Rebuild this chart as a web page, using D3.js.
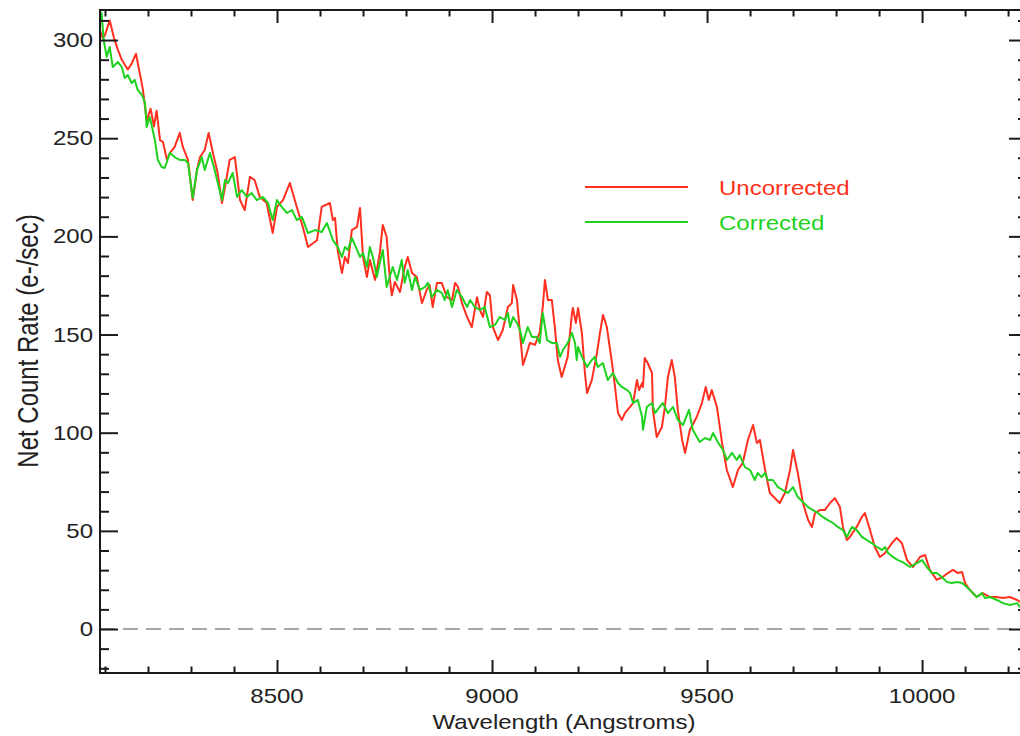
<!DOCTYPE html>
<html><head><meta charset="utf-8">
<script src="https://cdn.jsdelivr.net/npm/d3@7"></script>
<style>
body{margin:0;background:#fff;}
svg{display:block;}
text{font-family:"Liberation Sans",Arial,Helvetica,sans-serif;}
</style>
</head><body>
<svg id="chart" width="1020" height="736"></svg>
<script>
// ---------------- data ----------------
const seriesNames = ["Uncorrected", "Corrected"];
const seriesColors = ["#ff3020", "#1fd21f"];

const xMajorTicks = [8500, 9000, 9500, 10000];
const xMinorTicks = [8100, 8200, 8300, 8400, 8600, 8700, 8800, 8900, 9100, 9200, 9300, 9400,
  9600, 9700, 9800, 9900, 10100, 10200];
const yMajorTicks = [0, 50, 100, 150, 200, 250, 300];
const yMinorTicks = [-20, -10, 10, 20, 30, 40, 60, 70, 80, 90, 110, 120, 130, 140, 160, 170, 180, 190,
  210, 220, 230, 240, 260, 270, 280, 290, 310];

const uncorrectedWave = [8088,8095,8100,8111,8121,8130,8139,8153,8162,8172,8181,8188,8197,8206,8214,8220,8228,8235,8244,8251,
  8262,8274,8281,8293,8304,8314,8321,8332,8341,8351,8362,8372,8379,8390,8402,8414,8425,8437,8448,8460,
  8476,8490,8500,8514,8530,8546,8560,8572,8593,8604,8623,8630,8635,8641,8651,8658,8665,8674,8686,8693,
  8700,8709,8716,8728,8739,8746,8755,8762,8767,8774,8786,8797,8804,8814,8825,8837,8848,8855,8862,8872,
  8883,8895,8907,8914,8921,8930,8942,8953,8965,8972,8979,8988,8995,9002,9014,9025,9037,9046,9049,9058,
  9065,9072,9081,9088,9100,9111,9118,9123,9130,9139,9146,9153,9162,9169,9176,9186,9188,9195,9200,9209,
  9216,9221,9232,9244,9251,9258,9267,9279,9286,9293,9302,9309,9321,9328,9337,9342,9349,9351,9355,9362,
  9372,9374,9383,9395,9402,9409,9418,9425,9432,9442,9449,9460,9476,9488,9497,9504,9511,9523,9535,9546,
  9560,9572,9583,9595,9607,9616,9623,9635,9646,9662,9669,9681,9693,9700,9711,9723,9735,9744,9751,9762,
  9774,9786,9797,9809,9816,9825,9832,9848,9860,9867,9879,9890,9902,9914,9930,9941,9953,9965,9979,9995,
  10007,10018,10034,10048,10060,10072,10083,10093,10100,10111,10127,10141,10158,10174,10188,10204,10221,10228];
const uncorrectedRate = [305,301,302.6,310,301,295,290,285,288,293,283,275,259,265,256,264,249,248,239,242.5,
  245.6,252.7,245.6,239,218.5,234,240.4,244,252.7,242.5,232.3,217,225,239,240.4,218.5,213.4,230.3,228.7,220,
  217,201.7,215,218.5,227.2,215,204.8,194.6,198,215,217,208.3,209.4,193,181.3,189.5,186.4,203.2,204.8,214.5,
  189.5,179.3,188,177.8,191.5,205.8,199.7,179.3,170,176.8,171.7,184.4,189.5,181.3,179.3,166,172.7,175.2,164,176.3,
  176.3,169,167.6,176.3,174.2,166,159,153.8,169,162.5,159,171.7,170,153.8,147.2,152.3,164,166,175.2,167.6,
  150.8,134.5,140.6,145.7,144.7,151.3,164,177.8,167.6,167.6,153.8,137,128.4,133.5,138.6,161,163.5,155.9,163.5,150.8,
  130.4,120.2,126.8,140.6,150.8,160,153.8,135.5,123.3,110,106.5,110,113.1,115.1,126.8,121.7,125.3,123.3,138,135.5,
  130.4,111.6,97.8,102.9,113.1,128.4,137,128.4,111.6,96.3,89.7,101.4,108,115.1,123.3,116.7,121.7,113.1,94.7,81,
  72.3,81,84.6,96.3,103.9,94.7,96.3,81,69.3,65.7,64.2,69.3,81,91.2,79.5,64.2,55.5,52,59.1,60.6,
  60.6,64.2,66.7,62.1,52,45.3,46.9,52,57.1,59.1,50.4,41.8,36.7,38.7,43.8,46.4,43.8,35.1,31.6,36.7,
  37.7,30.1,25,26.5,28.5,30.1,28.5,29,23.4,19.9,16.3,18.3,16.3,16.3,15.8,16.3,14.8,13.8];

const correctedWave = [8088,8092,8097,8104,8111,8118,8130,8139,8146,8153,8162,8169,8176,8186,8193,8197,8204,8211,8216,8223,
  8232,8239,8251,8262,8274,8286,8293,8304,8314,8325,8332,8344,8355,8372,8379,8386,8397,8407,8418,8430,
  8441,8453,8467,8479,8490,8500,8511,8523,8535,8546,8558,8572,8588,8604,8616,8630,8641,8651,8658,8665,
  8674,8686,8693,8700,8709,8716,8723,8732,8739,8746,8755,8762,8769,8779,8790,8797,8804,8814,8821,8832,
  8844,8851,8860,8872,8883,8890,8897,8907,8918,8930,8942,8949,8960,8972,8983,8995,9007,9018,9030,9037,
  9042,9049,9058,9065,9072,9083,9093,9104,9111,9118,9128,9139,9151,9158,9165,9176,9186,9193,9197,9200,
  9209,9221,9232,9239,9246,9258,9269,9281,9293,9302,9314,9321,9328,9339,9349,9351,9360,9372,9379,9390,
  9397,9409,9421,9432,9444,9458,9467,9483,9495,9507,9514,9525,9537,9546,9558,9569,9576,9588,9600,9611,
  9618,9627,9635,9641,9653,9665,9676,9688,9700,9711,9723,9735,9746,9758,9769,9781,9793,9804,9816,9825,
  9837,9848,9860,9872,9883,9895,9907,9914,9921,9932,9944,9955,9972,9988,10000,10011,10023,10034,10046,10058,
  10069,10081,10093,10104,10116,10127,10139,10146,10158,10174,10188,10204,10221,10228];
const correctedRate = [311.8,313.8,300,291.4,296.5,286.3,288.8,286.3,280.7,282.2,278.1,279.7,274.6,272,268,255.7,260.8,254.2,249.1,238.9,
  235.3,234.8,242.5,240.4,238.9,238.9,237.4,219.6,233.8,240.4,233.8,242.5,233.8,218.5,228.7,227.2,232.3,220.1,223.6,220.1,
  222.1,218.5,220.1,217,208.3,218.5,215,211.9,213.4,208.3,209.9,201.7,203.2,202.2,206.8,198.1,194.6,189.5,194.6,193.1,
  199.2,193.1,189.5,191.5,184.4,194.6,189.5,179.3,186.4,193.1,174.2,179.3,184.4,177.8,188,176.3,182.9,172.7,179.3,172.7,
  174.2,176.3,169.1,172.7,171.2,167.6,172.7,164,172.7,169.1,164,167.6,164,162.5,164,153.8,154.9,158.9,157.4,161,
  153.8,158.9,155.9,152.3,145.7,153.8,148.7,148.7,145.7,161,147.2,145.7,145.7,138.6,142.1,145.7,150.8,145.7,137,143.7,
  138.6,133.5,137,138.6,133.5,135.5,126.8,130.4,125.3,123.3,121.7,120.2,115.1,116.7,108,101.4,113.1,115.1,110,113.1,
  115.1,110,113.1,106.5,103.9,111.6,101.4,95.3,97.3,96.3,99.8,95.3,91.2,86.1,89.7,86.1,88.6,82.5,81,75.9,
  79.5,77.4,79.5,75.9,75.9,72.3,70.8,69.3,72.3,67.2,64.7,62.1,60.6,59.1,57.1,55.5,54,52,50.4,46.9,
  52,50.4,46.9,45.3,43.8,41.8,40.2,41.8,38.7,36.7,35.1,34.1,31.6,33.6,35.1,31.6,28.5,28.5,26.5,23.9,
  23.4,23.9,23.4,21.4,18.8,16.3,18.3,15.8,16.3,14.8,13.2,12.2,13.2,11.2];

const xTitle = "Wavelength (Angstroms)";
const yTitle = "Net Count Rate (e-/sec)";

// ---------------- layout ----------------
const svg = d3.select("#chart");
const L = 100, R = 1027, T = 10, B = 673;
const xDomain = [8088.4, 10244];
const x = d3.scaleLinear().domain(xDomain).range([L, R]);
const y = d3.scaleLinear().domain([-22.4, 315.3]).range([B, T]);
const axisColor = "#1a1a1a";
const fs = 20, sx = 1.2;

// clip
svg.append("defs").append("clipPath").attr("id", "clip")
  .append("rect").attr("x", L).attr("y", T).attr("width", R - L).attr("height", B - T);

// zero dashed line
svg.append("line")
  .attr("x1", x(xDomain[0])).attr("x2", x(xDomain[1])).attr("y1", y(0)).attr("y2", y(0))
  .attr("stroke", "#8a8a8a").attr("stroke-width", 1.6).attr("stroke-dasharray", "15,8");

// series lines
const series = [
  {name: seriesNames[0], wave: uncorrectedWave, rate: uncorrectedRate, color: seriesColors[0]},
  {name: seriesNames[1], wave: correctedWave, rate: correctedRate, color: seriesColors[1]}
];
const line = d3.line().x(d => x(d[0])).y(d => y(d[1]));
const plot = svg.append("g").attr("clip-path", "url(#clip)");
series.forEach(s => {
  plot.append("path")
    .datum(s.wave.map((w, i) => [w, s.rate[i]]))
    .attr("fill", "none").attr("stroke", s.color).attr("stroke-width", 2)
    .attr("stroke-linejoin", "round").attr("d", line);
});

// axes with inward ticks
const xMajLen = 13, xMinLen = 6.5, yMajLen = 18, yMinLen = 9;
function styleAxis(g) {
  g.selectAll("path.domain").remove();
  g.selectAll(".tick line").attr("stroke", axisColor).attr("stroke-width", 2);
  g.selectAll(".tick text").remove();
}
svg.append("g").attr("transform", `translate(0,${B})`)
  .call(d3.axisBottom(x).tickValues(xMajorTicks).tickSize(-xMajLen)).call(styleAxis);
svg.append("g").attr("transform", `translate(0,${B})`)
  .call(d3.axisBottom(x).tickValues(xMinorTicks).tickSize(-xMinLen)).call(styleAxis);
svg.append("g").attr("transform", `translate(0,${T})`)
  .call(d3.axisTop(x).tickValues(xMajorTicks).tickSize(-xMajLen)).call(styleAxis);
svg.append("g").attr("transform", `translate(0,${T})`)
  .call(d3.axisTop(x).tickValues(xMinorTicks).tickSize(-xMinLen)).call(styleAxis);
svg.append("g").attr("transform", `translate(${L},0)`)
  .call(d3.axisLeft(y).tickValues(yMajorTicks).tickSize(-yMajLen)).call(styleAxis);
svg.append("g").attr("transform", `translate(${L},0)`)
  .call(d3.axisLeft(y).tickValues(yMinorTicks).tickSize(-yMinLen)).call(styleAxis);
svg.append("g").attr("transform", `translate(${R},0)`)
  .call(d3.axisRight(y).tickValues(yMajorTicks).tickSize(-yMajLen)).call(styleAxis);
svg.append("g").attr("transform", `translate(${R},0)`)
  .call(d3.axisRight(y).tickValues(yMinorTicks).tickSize(-yMinLen)).call(styleAxis);

// frame
svg.append("rect").attr("x", L).attr("y", T).attr("width", R - L).attr("height", B - T)
  .attr("fill", "none").attr("stroke", axisColor).attr("stroke-width", 2);

// tick labels
svg.append("g").selectAll("text").data(xMajorTicks).join("text")
  .attr("transform", d => `translate(${x(d)},703) scale(${sx},1)`)
  .attr("text-anchor", "middle").attr("font-size", fs).attr("fill", "#222").text(d => d);
svg.append("g").selectAll("text").data(yMajorTicks).join("text")
  .attr("transform", d => `translate(93,${y(d) + 7}) scale(${sx},1)`)
  .attr("text-anchor", "end").attr("font-size", fs).attr("fill", "#222").text(d => d);

// axis titles
svg.append("text").attr("transform", `translate(564,729) scale(${sx},1)`)
  .attr("text-anchor", "middle").attr("font-size", fs).attr("fill", "#222").text(xTitle);
svg.append("text").attr("transform", `translate(38,341) rotate(-90) scale(1,${sx})`)
  .attr("text-anchor", "middle").attr("font-size", 24).attr("fill", "#222").text(yTitle);

// legend
const legY = [187, 222];
series.forEach((s, i) => {
  svg.append("line").attr("x1", 585).attr("x2", 688).attr("y1", legY[i]).attr("y2", legY[i])
    .attr("stroke", s.color).attr("stroke-width", 2);
  svg.append("text").attr("transform", `translate(719,${legY[i] + 8}) scale(${sx},1)`)
    .attr("font-size", fs).attr("fill", s.color).text(s.name);
});
</script>
</body></html>
